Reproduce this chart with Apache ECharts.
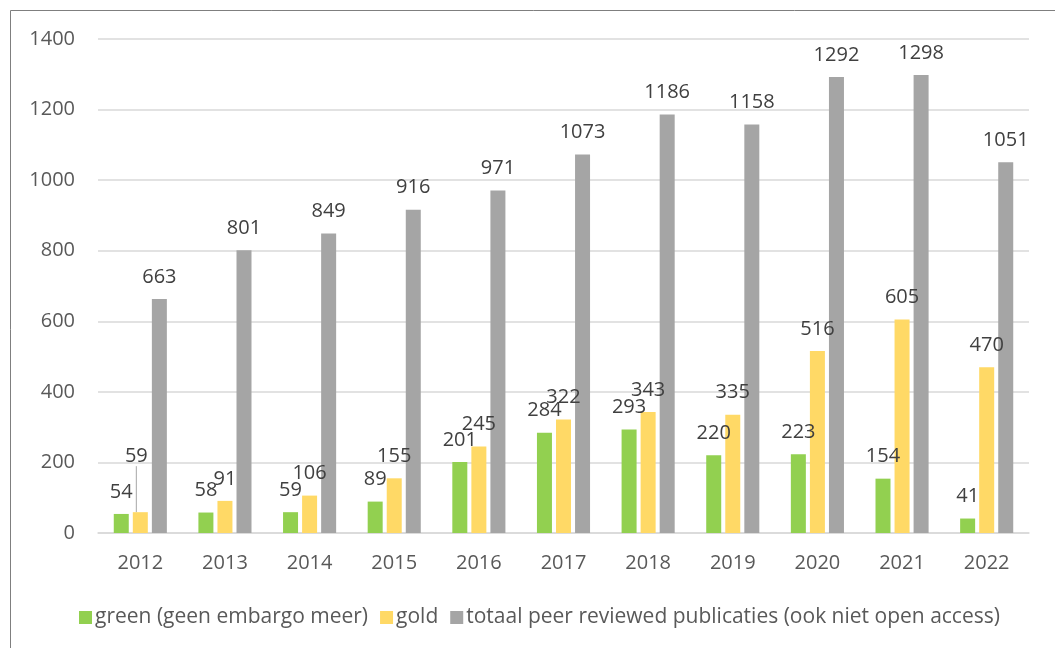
<!DOCTYPE html>
<html>
<head>
<meta charset="utf-8">
<script src="https://cdn.jsdelivr.net/npm/echarts@6/dist/echarts.min.js"></script>
<style>
html,body{margin:0;padding:0;background:#fff;}
#chart{width:1055px;height:648px;}
</style>
</head>
<body>
<div id="chart"></div>
<script>
const years = ['2012','2013','2014','2015','2016','2017','2018','2019','2020','2021','2022'];
const green = [54,58,59,89,201,284,293,220,223,154,41];
const gold = [59,91,106,155,245,322,343,335,516,605,470];
const totaal = [663,801,849,916,971,1073,1186,1158,1292,1298,1051];
const seriesNames = ['green (geen embargo meer)','gold','totaal peer reviewed publicaties (ook niet open access)'];
const yTicks = {min:0, max:1400, interval:200};

const FONT = '"Open Sans", "Liberation Sans", sans-serif';
const chart = echarts.init(document.getElementById('chart'));

const labelCfg = {
  show: true, position: 'top', distance: 12,
  color: '#404040', fontSize: 20, fontFamily: FONT
};

function mkSeries(name, data, color){
  return {
    name: name, type: 'bar', data: data,
    barWidth: 15, barGap: '27%',
    itemStyle: {color: color},
    label: labelCfg,
    labelLine: {show: false},
    emphasis: {disabled: true},
    animation: false
  };
}
const s1 = mkSeries(seriesNames[0], green, '#92D050');
const goldData = gold.map(function(v, i){
  if (i === 0) return {value: v, labelLine: {show: true, lineStyle: {color: '#a6a6a6', width: 1}}};
  return v;
});
const s2 = mkSeries(seriesNames[1], goldData, '#FFD966');
s2.labelLayout = function(p){
  if (p.dataIndex === 0) return {dy: -34, dx: -4};
  return {};
};
const s3 = mkSeries(seriesNames[2], totaal, '#A5A5A5');

chart.setOption({
  backgroundColor: '#fff',
  animation: false,
  graphic: [{
    type: 'rect', silent: true,
    shape: {x: 10.5, y: 10.5, width: 1100, height: 700},
    style: {fill: 'none', stroke: '#7f7f7f', lineWidth: 1}
  }],
  grid: {left: 98, right: 26, top: 39, bottom: 115, containLabel: false},
  legend: {
    bottom: 15, left: 74,
    itemWidth: 13, itemHeight: 13, itemGap: 12,
    icon: 'rect',
    textStyle: {color: '#595959', fontSize: 21, fontFamily: FONT, padding: [0,0,0,-2]},
    data: seriesNames
  },
  xAxis: {
    type: 'category', data: years,
    axisLine: {lineStyle: {color: '#d9d9d9', width: 1.5}},
    axisTick: {show: false},
    axisLabel: {color: '#595959', fontSize: 20, fontFamily: FONT, margin: 20}
  },
  yAxis: {
    type: 'value', min: yTicks.min, max: yTicks.max, interval: yTicks.interval,
    axisLine: {show: false}, axisTick: {show: false},
    splitLine: {lineStyle: {color: '#d9d9d9', width: 1.5}},
    axisLabel: {color: '#595959', fontSize: 20, fontFamily: FONT, margin: 23,
      formatter: function(v){ return String(v); }}
  },
  series: [s1, s2, s3]
});
</script>
</body>
</html>
